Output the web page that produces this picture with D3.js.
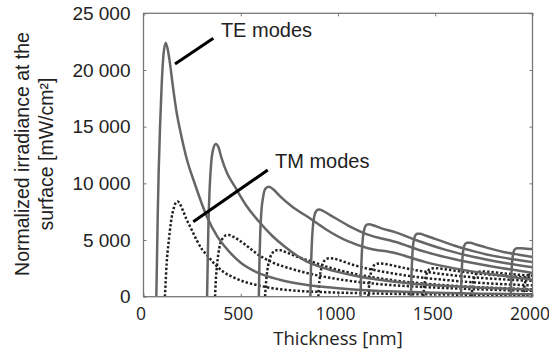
<!DOCTYPE html>
<html>
<head>
<meta charset="utf-8">
<script src="https://cdn.jsdelivr.net/npm/d3@7"></script>
<style>
body { margin: 0; background: #fff; }
</style>
</head>
<body>
<script>
// axis ticks
var xTicks = [0, 500, 1000, 1500, 2000];
var yTicks = [0, 5000, 10000, 15000, 20000, 25000];

// TE modes (solid) : [thickness nm, irradiance mW/cm2]
var te0 = [[66,0],[69,3000],[73,7000],[78,11000],[85,15000],[93,18500],[102,21200],[114,22400],[126,21700],[136,20600],[150,18700],[170,16300],[188,14700],[220,12300],[265,9900],[325,7100],[380,5300],[419,4400],[500,3000],[590,2100],[700,1500],[800,1150],[933,850],[1100,620],[1300,450],[1500,350],[1750,270],[2000,210]];
var te1 = [[327,0],[330,3000],[334,6500],[340,9500],[348,11800],[358,13000],[372,13470],[385,13200],[400,12300],[430,10900],[470,9700],[530,8000],[590,6700],[660,5400],[727,4400],[840,3100],[933,2500],[1100,1800],[1300,1300],[1500,1000],[1750,780],[2000,620]];
var te2 = [[593,0],[596,3000],[600,5500],[606,7500],[615,8800],[628,9550],[645,9700],[665,9500],[700,8900],[760,8000],[857,6900],[933,6000],[1050,4900],[1150,4300],[1293,3850],[1450,3050],[1600,2500],[1800,1950],[2000,1500]];
var te3 = [[858,0],[861,2500],[865,4500],[870,6000],[878,7100],[890,7600],[903,7700],[920,7600],[960,7200],[1050,6300],[1150,5500],[1293,4850],[1450,3950],[1600,3300],[1800,2650],[2000,2100]];
var te4 = [[1116,0],[1119,2200],[1123,4000],[1128,5200],[1136,6000],[1148,6350],[1162,6400],[1180,6300],[1220,6050],[1293,5700],[1400,5000],[1550,4150],[1700,3500],[1850,3000],[2000,2600]];
var te5 = [[1375,0],[1378,2000],[1382,3600],[1387,4700],[1395,5300],[1407,5550],[1422,5550],[1450,5400],[1500,5100],[1600,4500],[1700,4000],[1800,3600],[1900,3300],[2000,3050]];
var te6 = [[1632,0],[1635,1800],[1639,3200],[1644,4100],[1652,4600],[1665,4750],[1680,4750],[1710,4600],[1760,4350],[1850,3950],[1930,3700],[2000,3500]];
var te7 = [[1888,0],[1891,1700],[1895,3000],[1900,3750],[1908,4150],[1920,4270],[1940,4270],[1970,4230],[2000,4200]];

// TM modes (dotted)
var tm0 = [[110,0],[113,1000],[119,2950],[128,4600],[136,5880],[145,7000],[153,7650],[165,8250],[176,8400],[190,8100],[205,7500],[222,6800],[245,6000],[273,5000],[300,4200],[330,3600],[370,2800],[410,2200],[470,1650],[531,1250],[590,1000],[650,780],[760,560],[933,400],[1200,280],[1500,200],[1750,160],[2000,130]];
var tm1 = [[368,0],[371,1200],[377,2600],[385,3800],[395,4700],[410,5200],[425,5420],[440,5440],[460,5300],[490,5000],[530,4500],[590,3700],[660,3050],[762,2450],[850,2050],[933,1750],[1050,1420],[1200,1130],[1400,890],[1600,730],[1800,610],[2000,520]];
var tm2 = [[625,0],[628,800],[633,1800],[640,2700],[650,3400],[665,3900],[685,4100],[705,4100],[730,3950],[780,3600],[856,3150],[940,2650],[1027,2250],[1150,1800],[1284,1450],[1450,1150],[1650,900],[1800,780],[2000,650]];
var tm3 = [[899,0],[902,900],[907,1800],[914,2500],[924,3000],[938,3300],[955,3390],[975,3370],[1010,3200],[1079,2800],[1160,2450],[1250,2150],[1400,1750],[1550,1480],[1750,1200],[2000,1000]];
var tm4 = [[1156,0],[1159,800],[1164,1600],[1171,2200],[1181,2650],[1195,2880],[1215,2940],[1240,2900],[1290,2720],[1380,2400],[1500,2080],[1650,1780],[1800,1580],[2000,1400]];
var tm5 = [[1439,0],[1442,700],[1447,1400],[1454,1950],[1464,2300],[1478,2480],[1498,2520],[1525,2480],[1580,2350],[1680,2120],[1800,1920],[1900,1780],[2000,1680]];
var tm6 = [[1687,0],[1690,650],[1695,1250],[1702,1750],[1712,2050],[1726,2200],[1745,2230],[1775,2200],[1830,2100],[1900,1980],[2000,1850]];
var tm7 = [[1953,0],[1956,600],[1961,1150],[1968,1600],[1978,1880],[1990,2000],[2000,2020]];

var teSeries = [te0, te1, te2, te3, te4, te5, te6, te7];
var tmSeries = [tm0, tm1, tm2, tm3, tm4, tm5, tm6, tm7];

// annotation labels with their pointer lines (data coords)
var labels = [
    {text: "TE modes", at: [398, 22930], line: [[162, 20520], [359, 22790]]},
    {text: "TM modes", at: [676, 11350], line: [[256, 6615], [639, 11175]]}
];

function plot_it() {
    var width = 549, height = 357;
    var svg = d3.select('body').append('svg').attr('width', width).attr('height', height);

    var left = 143.5, right = 532.5, top = 13.3, bottom = 296.7;

    var x = d3.scaleLinear().domain([0, 2000]).range([left, right]);
    var y = d3.scaleLinear().domain([0, 25000]).range([bottom, top]);

    var fmt = d3.formatLocale({decimal: ".", thousands: " ", grouping: [3], currency: ["", ""]}).format(",");

    svg.append("clipPath").attr("id", "clip")
        .append("rect").attr("x", left).attr("y", top)
        .attr("width", right - left).attr("height", bottom - top);

    var line = d3.line()
        .x(function (d) { return x(d[0]); })
        .y(function (d) { return y(d[1]); })
        .curve(d3.curveMonotoneX);

    var plot = svg.append("g").attr("clip-path", "url(#clip)");

    plot.selectAll(".tm").data(tmSeries).enter().append("path")
        .attr("class", "tm")
        .attr("d", line)
        .attr("fill", "none")
        .attr("stroke", "#222")
        .attr("stroke-width", 2.5)
        .attr("stroke-dasharray", "2.4,2");

    plot.selectAll(".te").data(teSeries).enter().append("path")
        .attr("class", "te")
        .attr("d", line)
        .attr("fill", "none")
        .attr("stroke", "#666")
        .attr("stroke-width", 2.5);

    // frame
    svg.append("rect")
        .attr("x", left).attr("y", top)
        .attr("width", right - left).attr("height", bottom - top)
        .attr("fill", "none").attr("stroke", "#777").attr("stroke-width", 1.3);

    var axisFont = "Arial, 'Liberation Sans', sans-serif";
    var xFont = "'Open Sans', 'Noto Sans', sans-serif";

    // axes, ticks inward
    var gx = svg.append("g").attr("transform", "translate(0," + bottom + ")")
        .call(d3.axisBottom(x).tickValues(xTicks).tickSize(-3).tickPadding(0).tickFormat(d3.format("d")));
    gx.selectAll("text").attr("font-family", xFont).attr("font-size", 17.5).attr("fill", "#222")
        .attr("dy", null).attr("y", 23).attr("dx", -3);
    svg.append("g").attr("transform", "translate(0," + top + ")")
        .call(d3.axisTop(x).tickValues(xTicks).tickSize(-3).tickFormat(""));

    var gy = svg.append("g").attr("transform", "translate(" + left + ",0)")
        .call(d3.axisLeft(y).tickValues(yTicks).tickSize(-3).tickPadding(13).tickFormat(fmt));
    gy.selectAll("text").attr("font-family", axisFont).attr("font-size", 19).attr("fill", "#222");
    svg.append("g").attr("transform", "translate(" + right + ",0)")
        .call(d3.axisRight(y).tickValues(yTicks).tickSize(-3).tickFormat(""));

    svg.selectAll(".domain").remove();
    svg.selectAll(".tick line").attr("stroke", "#777");

    // annotations
    labels.forEach(function (l) {
        svg.append("line")
            .attr("x1", x(l.line[0][0])).attr("y1", y(l.line[0][1]))
            .attr("x2", x(l.line[1][0])).attr("y2", y(l.line[1][1]))
            .attr("stroke", "#000").attr("stroke-width", 3);
        svg.append("text")
            .attr("x", x(l.at[0])).attr("y", y(l.at[1]))
            .attr("font-family", axisFont).attr("font-size", 20).attr("fill", "#222")
            .text(l.text);
    });

    // axis titles
    svg.append("text")
        .attr("x", (left + right) / 2).attr("y", 345)
        .attr("text-anchor", "middle")
        .attr("font-family", xFont).attr("font-size", 18.5).attr("fill", "#222")
        .text("Thickness [nm]");

    var yt = svg.append("text")
        .attr("transform", "translate(0,154) rotate(-90)")
        .attr("text-anchor", "middle")
        .attr("font-family", axisFont).attr("font-size", 19.5).attr("fill", "#222");
    yt.append("tspan").attr("x", 0).attr("y", 29).text("Normalized irradiance at the");
    yt.append("tspan").attr("x", 0).attr("y", 53).text("surface [mW/cm²]");
}

plot_it();
</script>
</body>
</html>
